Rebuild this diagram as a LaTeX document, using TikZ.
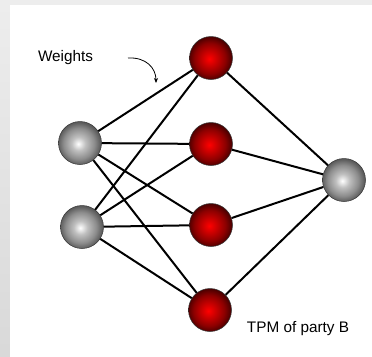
\documentclass[tikz,border=0pt]{standalone}
\usepackage{fontspec}
\setmainfont{Liberation Sans}
\usetikzlibrary{arrows.meta}
\pgfdeclareradialshading{redglobe}{\pgfpoint{-2bp}{-1bp}}{%
  color(0bp)=(red!100);
  color(6bp)=(red!85!black);
  color(18bp)=(red!55!black);
  color(25bp)=(red!30!black);
  color(50bp)=(red!30!black)}
\pgfdeclareradialshading{grayglobe}{\pgfpoint{-2bp}{-1bp}}{%
  color(0bp)=(white);
  color(8bp)=(black!25);
  color(18bp)=(black!45);
  color(25bp)=(black!65);
  color(50bp)=(black!65)}
\begin{document}
\begin{tikzpicture}[x=1bp,y=-1bp,
  neuron/.style={circle,minimum size=43bp,inner sep=0pt,draw=black!80,line width=0.5bp},
  grayball/.style={neuron,shading=grayglobe},
  redball/.style={neuron,shading=redglobe},
  wire/.style={line width=2bp,black},
  lbl/.style={font=\fontsize{15.3bp}{18bp}\selectfont,inner sep=0pt,anchor=base}]
\useasboundingbox (0,0) rectangle (372,357);
\fill[black!7] (0,0) rectangle (372,357);
\shade[top color=black!7,bottom color=black!15] (0,0) rectangle (10,357);
\fill[white] (10,5) rectangle (372,357);
% nodes
\node[grayball] (i1) at (80,143) {};
\node[grayball] (i2) at (82,227) {};
\node[redball] (h1) at (211,58) {};
\node[redball] (h2) at (211,144) {};
\node[redball] (h3) at (211,225) {};
\node[redball] (h4) at (210,310) {};
\node[grayball] (o) at (344,180) {};
% connectors
\foreach \i in {i1,i2}{
  \foreach \h in {h1,h2,h3,h4}{
    \draw[wire] (\i) -- (\h);
  }
}
\foreach \h in {h1,h2,h3,h4}{
  \draw[wire] (\h) -- (o);
}
% labels
\node[lbl] (w) at (65.5,61) {Weights};
\node[lbl] (t) at (298,332) {TPM of party B};
\coordinate (a1) at (128,58);
\coordinate (a2) at (156,83);
\draw[line width=0.8bp,-{Stealth[length=5bp,width=4bp]}] (a1) .. controls (146,57) and (156,68) .. (a2);
\end{tikzpicture}
\end{document}
